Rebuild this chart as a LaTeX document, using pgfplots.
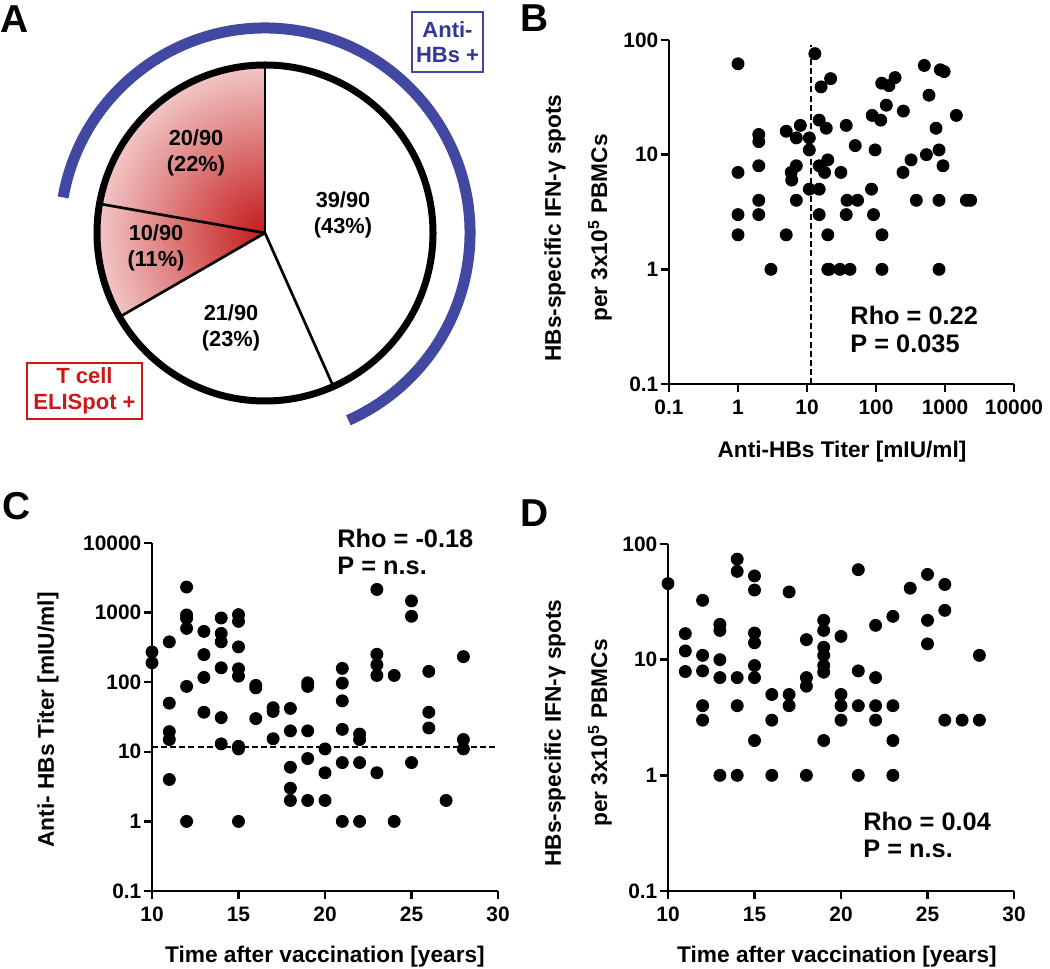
\documentclass[border=0pt]{standalone}
\usepackage{fontspec}
\setmainfont{Liberation Sans}
\usepackage{pgfplots}
\pgfplotsset{compat=1.18}
\definecolor{hbsblue}{RGB}{66,72,162}
\definecolor{hbstext}{RGB}{50,54,150}
\definecolor{tred}{RGB}{204,24,24}
\definecolor{pieRed}{RGB}{196,26,26}
\definecolor{piePink}{RGB}{252,236,236}
\newcommand\lblfont{\bfseries\fontsize{10.2}{12}\selectfont}
\newcommand\tickfont{\bfseries\fontsize{9.4}{11}\selectfont}
\newcommand\rhofont{\bfseries\fontsize{11.4}{12.6}\selectfont}
\newcommand\piefont{\bfseries\fontsize{9.8}{11.7}\selectfont}
\pgfplotsset{
  panel/.style={
    scale only axis, axis lines=left, axis line style={-, line width=1.3pt},
    enlargelimits=false, tick align=outside, major tick length=3.6pt,
    tick style={line width=1.1pt, black},
    xminorticks=false, yminorticks=false,
    tick label style={font=\tickfont},
    yticklabel style={inner sep=1pt},
    /pgf/number format/assume math mode=true,
    clip=false,
  },
  dots/.style={only marks, mark=*, mark size=2.7pt, black, mark options={draw=black, fill=black}},
  dashline/.style={black, line width=0.8pt, dash pattern=on 2.7pt off 1.4pt},
}
\def\nA{39}\def\nB{21}\def\nC{10}\def\nD{20}
\begin{document}
\begin{tikzpicture}[x=0.45pt, y=0.45pt]
\path[use as bounding box] (0,0) rectangle (1050,968);

% ---------------- Panel A: pie ----------------
\begin{axis}[hide axis, scale only axis, width=100pt, height=100pt,
  xmin=-1, xmax=1, ymin=-1, ymax=1, at={(119.25pt,330.75pt)}, anchor=center, clip=false]
\addplot[draw=none, forget plot] coordinates {(0,0)};
\pgfplotsextra{
  \pgfmathsetmacro\tot{\nA+\nB+\nC+\nD}
  \pgfmathsetmacro\aA{90-360*\nA/\tot}
  \pgfmathsetmacro\aB{\aA-360*\nB/\tot}
  \pgfmathsetmacro\aC{\aB-360*\nC/\tot}
  \pgfmathsetmacro\aCp{\aC+360}
  \def\R{75.6pt}\def\Rb{92.25pt}
  \coordinate (O) at (axis cs:0,0);
  \fill[white] (O) circle[radius=\R];
  \begin{scope}
    \clip (O) -- ++(\aB:\R) arc[start angle=\aB, end angle=-270, radius=\R] -- cycle;
    \shade[inner color=pieRed, outer color=piePink] (O) circle[radius=92pt];
  \end{scope}
  \draw[black, line width=1.2pt] (O) -- ++(90:\R);
  \draw[black, line width=1.2pt] (O) -- ++(\aA:\R);
  \draw[black, line width=1.2pt] (O) -- ++(\aB:\R);
  \draw[black, line width=1.2pt] (O) -- ++(\aC:\R);
  \draw[black, line width=3.15pt] (O) circle[radius=\R];
  \draw[hbsblue, line width=4.95pt] (O) ++(\aCp:\Rb) arc[start angle=\aCp, end angle=\aA, radius=\Rb];
}
\end{axis}
\node[font=\piefont, align=center] at (196,815) {20/90\\(22\%)};
\node[font=\piefont, align=center] at (343,753) {39/90\\(43\%)};
\node[font=\piefont, align=center] at (156,720) {10/90\\(11\%)};
\node[font=\piefont, align=center] at (231,640) {21/90\\(23\%)};
\node[draw=hbsblue, line width=0.6pt, text=hbstext, font=\bfseries\fontsize{9.9}{11.5}\selectfont,
  align=center, inner sep=0pt, minimum width=31.95pt, minimum height=27pt] at (447.5,926) {Anti-\\HBs +};
\node[draw=tred, line width=0.6pt, text=tred, font=\bfseries\fontsize{9.9}{11.5}\selectfont,
  align=center, inner sep=0pt, minimum width=51.75pt, minimum height=25.2pt] at (84.5,577) {T cell\\ELISpot +};

% ---------------- Panel B ----------------
\begin{axis}[panel, at={(301.05pt,262.8pt)}, anchor=south west, width=155.25pt, height=154.8pt,
  xmode=log, ymode=log, xmin=0.1, xmax=10000, ymin=0.1, ymax=100,
  xtick={0.1,1,10,100,1000,10000}, xticklabels={0.1,1,10,100,1000,10000},
  ytick={0.1,1,10,100}, yticklabels={0.1,1,10,100}]
\addplot[dashline] coordinates {(11.3,0.1) (11.3,90)};
\addplot[dots] table {
x y
1 62
1 7
1 3
1 2
2 15
2 13
2 8
2 4
2 3
3 1
5 16
5 2
5.9 7
6 6
7 14
7 8
7 4
8 18
10.8 14
10.8 11
10.8 5
13 76
15 5
15 8
15 3
15 20
16 39
18 7
19 17
20 9
20 2
20 1
21 1
22 46
30 1
31 7
37 18
37 3
38 4
42 1
50 12
54 4
86 5
88 22
92 3
97 11
117 20
121 42
122 2
122 1
141 27
154 40
189 47
246 7
249 24
322 9
384 4
501 60
537 10
586 33
741 17
819 11
819 4
819 1
855 55
935 8
970 53
1460 22
2040 4
2350 4
};
\end{axis}
\node[font=\lblfont, rotate=90] at (555,740) {HBs-specific IFN-γ spots};
\node[font=\lblfont, rotate=90] at (600,740) {per 3x10\textsuperscript{5} PBMCs};
\node[font=\lblfont] at (842,516) {Anti-HBs Titer [mIU/ml]};
\node[font=\rhofont, anchor=base west, inner sep=0pt] at (850,643) {Rho = 0.22};
\node[font=\rhofont, anchor=base west, inner sep=0pt] at (850,615) {P = 0.035};

% ---------------- Panel C ----------------
\begin{axis}[panel, at={(68.4pt,34.65pt)}, anchor=south west, width=155.7pt, height=156.6pt,
  ymode=log, xmin=10, xmax=30, ymin=0.1, ymax=10000,
  xtick={10,15,20,25,30}, xticklabels={10,15,20,25,30},
  ytick={0.1,1,10,100,1000,10000}, yticklabels={0.1,1,10,100,1000,10000}]
\addplot[dashline] coordinates {(10,11.8) (30,11.8)};
\addplot[dots] table {
x y
10 272
10 190
11 380
11 50
11 19.5
11 15
11 4
12 2330
12 925
12 828
12 593
12 87
12 1
13 537
13 249
13 117
13 37
14 837
14 502
14 380
14 161
14 31
14 13
15 935
15 748
15 322
15 156
15 122
15 12
15 11
15 1
16 90
16 83
16 30
17 43
17 38
17 15.4
18 42
18 20
18 6
18 3
18 2
19 98
19 87
19 20
19 8
19 2
20 11
20 5
20 2
21 158
21 97
21 54
21 21
21 7
21 1
22 18
22 15
22 7
22 1
23 2150
23 252
23 178
23 125
23 5
24 125
24 1
25 1475
25 885
25 7
26 143
26 37
26 22
27 2
28 233
28 15
28 11
};
\end{axis}
\node[font=\lblfont, rotate=90] at (48,248) {Anti- HBs Titer [mIU/ml]};
\node[font=\lblfont] at (325,11) {Time after vaccination [years]};
\node[font=\rhofont, anchor=base west, inner sep=0pt] at (337,420) {Rho = -0.18};
\node[font=\rhofont, anchor=base west, inner sep=0pt] at (337,393) {P = n.s.};

% ---------------- Panel D ----------------
\begin{axis}[panel, at={(300.6pt,34.65pt)}, anchor=south west, width=155.7pt, height=156.15pt,
  ymode=log, xmin=10, xmax=30, ymin=0.1, ymax=100,
  xtick={10,15,20,25,30}, xticklabels={10,15,20,25,30},
  ytick={0.1,1,10,100}, yticklabels={0.1,1,10,100}]
\addplot[dots] table {
x y
10 45.5
11 16.8
11 11.9
11 7.9
12 32.6
12 10.9
12 8
12 4
12 3
13 20.2
13 17.9
13 10
13 7
13 1
14 74
14 58
14 7
14 4
14 1
15 53
15 40
15 17
15 14
15 8.9
15 7
15 2
16 5
16 3
16 1
17 38.5
17 5
17 4
18 14.9
18 7
18 5.9
18 1
19 21.9
19 17.9
19 12.8
19 10.9
19 8.9
19 7.8
19 2
20 15.9
20 5
20 4
20 3
21 60
21 8
21 4
21 1
22 19.8
22 7
22 4
22 3
23 23.7
23 4
23 2
23 1
24 41.5
25 54.6
25 21.9
25 13.7
26 44.7
26 26.7
26 3
27 3
28 10.9
28 3
};
\end{axis}
\node[font=\lblfont, rotate=90] at (555,235) {HBs-specific IFN-γ spots};
\node[font=\lblfont, rotate=90] at (600,235) {per 3x10\textsuperscript{5} PBMCs};
\node[font=\lblfont] at (837,11) {Time after vaccination [years]};
\node[font=\rhofont, anchor=base west, inner sep=0pt] at (863,138) {Rho = 0.04};
\node[font=\rhofont, anchor=base west, inner sep=0pt] at (863,111) {P = n.s.};

% ---------------- Panel letters ----------------
\node[font=\bfseries\fontsize{17.5}{20}\selectfont, anchor=base west, inner sep=0pt] at (0,935) {A};
\node[font=\bfseries\fontsize{17.5}{20}\selectfont, anchor=base west, inner sep=0pt] at (520,936) {B};
\node[font=\bfseries\fontsize{17.5}{20}\selectfont, anchor=base west, inner sep=0pt] at (2,448) {C};
\node[font=\bfseries\fontsize{17.5}{20}\selectfont, anchor=base west, inner sep=0pt] at (520,441) {D};
\end{tikzpicture}
\end{document}
